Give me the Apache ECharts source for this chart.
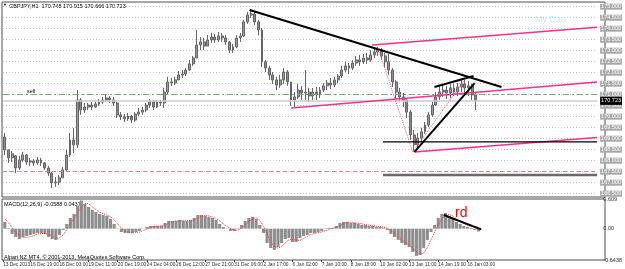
<!DOCTYPE html>
<html>
<head>
<meta charset="utf-8">
<script src="https://cdn.jsdelivr.net/npm/echarts@6/dist/echarts.min.js"></script>
<style>
html, body { margin: 0; padding: 0; background: #fff; }
#chart { width: 625px; height: 269px; }
</style>
</head>
<body>
<div id="chart"></div>
<script>
var candles = [
    [169.08,168.49,168.26,169.26],[168.49,168.13,167.90,168.49],[168.13,168.31,167.94,168.44],[168.22,167.67,167.44,168.26],
    [167.67,168.03,167.58,168.22],[168.03,168.26,167.94,168.40],[168.26,167.94,167.81,168.31],[167.94,167.99,167.76,168.13],
    [167.99,167.90,167.76,168.08],[167.90,168.03,167.81,168.17],[168.03,167.90,167.76,168.13],[167.90,167.67,167.58,167.94],
    [167.67,167.44,167.31,167.76],[167.44,166.99,166.76,167.49],[166.99,167.03,166.81,167.26],[167.03,167.22,166.90,167.35],
    [167.22,167.58,167.22,167.72],[167.58,168.26,167.49,168.49],[168.26,168.94,168.17,169.26],[168.94,168.72,168.35,169.49],
    [168.72,170.76,168.58,171.21],[170.76,170.30,170.08,170.85],[170.30,170.44,170.17,170.62],[170.44,170.53,170.30,170.62],
    [170.53,170.44,170.30,170.67],[170.44,170.58,170.40,170.71],[170.58,170.67,170.49,170.80],[170.67,170.76,170.58,170.90],
    [170.76,170.85,170.67,170.99],[170.85,170.76,170.62,170.94],[170.76,170.62,170.49,170.90],[170.62,170.08,169.94,170.67],
    [170.08,169.99,169.85,170.21],[169.99,169.90,169.76,170.12],[169.90,170.03,169.81,170.17],[170.03,169.85,169.71,170.08],
    [169.85,170.12,169.76,170.21],[170.12,170.21,170.03,170.40],[170.21,170.30,170.08,170.44],[170.30,170.53,170.21,170.62],
    [170.53,170.67,170.40,170.80],[170.67,170.44,170.30,170.76],[170.44,170.67,170.40,170.76],[170.67,170.62,170.49,170.76],
    [170.62,171.12,170.40,171.31],[171.12,171.58,171.03,171.81],[171.58,171.53,171.40,171.76],[171.53,171.67,171.44,171.81],
    [171.67,171.90,171.67,172.08],[171.90,171.94,171.76,172.12],[171.94,172.12,171.85,172.21],[172.12,172.40,172.08,172.58],
    [172.40,172.67,172.31,172.76],[172.67,173.26,172.67,173.94],[173.26,173.40,173.03,173.62],[173.40,173.21,173.03,173.58],
    [173.21,173.49,173.21,173.71],[173.49,173.62,173.35,173.81],[173.62,173.49,173.35,173.76],[173.49,173.67,173.40,173.85],
    [173.67,173.58,173.40,173.81],[173.58,173.40,173.26,173.71],[173.40,173.03,172.90,173.44],[173.03,173.17,172.90,173.31],
    [173.17,173.58,173.12,173.71],[173.58,173.67,173.40,173.81],[173.67,174.31,173.62,174.40],[174.31,174.62,174.22,174.76],
    [174.62,174.67,174.49,174.90],[174.67,174.31,174.17,174.76],[174.31,173.94,173.71,174.40],[173.94,172.49,172.26,174.03],
    [172.49,172.21,172.03,172.58],[172.21,171.90,171.67,172.31],[171.90,171.67,171.49,172.03],[171.67,171.44,171.21,171.81],
    [171.44,171.67,171.31,171.90],[171.67,172.03,171.49,172.21],[172.03,171.58,171.40,172.12],[171.58,170.76,170.49,171.58],
    [170.76,170.90,170.40,171.12],[170.90,171.21,170.80,171.49],[171.21,171.08,170.76,171.40],[171.08,171.12,170.76,172.12],
    [171.12,170.94,170.67,171.31],[170.94,171.12,170.76,171.31],[171.12,170.99,170.76,171.35],[170.99,171.21,170.85,171.35],
    [171.21,171.40,171.12,171.53],[171.40,171.53,171.21,171.67],[171.53,171.44,171.26,171.76],[171.44,171.67,171.35,171.81],
    [171.67,171.85,171.53,171.94],[171.85,172.12,171.76,172.31],[172.12,172.31,172.03,172.49],[172.31,172.21,171.94,172.44],
    [172.21,172.44,172.12,172.58],[172.44,172.58,172.31,172.76],[172.58,172.49,172.31,172.81],[172.49,172.67,172.40,172.85],
    [172.67,172.58,172.40,172.90],[172.58,172.81,172.49,173.03],[172.81,172.94,172.67,173.12],[172.94,173.03,172.76,173.17],
    [173.03,172.76,172.58,173.12],[172.76,172.49,172.26,172.90],[172.49,172.12,171.90,172.85],[172.12,171.58,171.35,172.21],
    [171.58,171.12,170.76,171.67],[171.12,170.90,170.67,171.31],[170.90,170.76,170.44,171.08],[170.76,170.21,169.94,170.80],
    [170.21,169.17,168.94,170.30],[169.17,168.72,168.40,169.40],[168.72,169.03,168.58,169.26],[169.03,169.31,168.85,169.49],
    [169.31,169.62,169.22,169.76],[169.62,170.08,169.53,170.21],[170.08,170.53,169.99,170.67],[170.53,170.90,170.49,171.12],
    [170.90,171.12,170.76,171.40],[171.12,171.21,170.90,171.44],[171.21,171.08,170.80,171.40],[171.08,171.31,170.85,171.49],
    [171.31,171.12,170.94,171.49],[171.12,171.35,170.94,171.53],[171.35,171.49,171.12,171.67],[171.49,171.31,171.08,171.76],
    [171.31,171.40,170.94,171.62],[171.40,170.99,170.76,171.49],[170.99,170.71,170.30,171.12]
];

// MACD(12,26,9) main (histogram) and signal, per 4-hour bar
var macdMain = [
    0.138,0.014,-0.109,-0.170,-0.211,-0.170,-0.150,-0.129,-0.109,-0.088,
    -0.088,-0.109,-0.170,-0.211,-0.232,-0.129,-0.027,0.096,0.220,0.302,
    0.466,0.580,0.507,0.446,0.384,0.343,0.302,0.281,0.261,0.199,
    0.096,-0.006,-0.068,-0.088,-0.088,-0.088,-0.068,-0.047,-0.006,0.035,
    0.055,0.055,0.055,0.055,0.117,0.158,0.158,0.158,0.179,0.158,
    0.158,0.179,0.220,0.281,0.281,0.261,0.240,0.220,0.179,0.096,
    0.035,-0.006,-0.047,-0.047,-0.006,0.076,0.158,0.220,0.240,0.199,
    0.076,-0.088,-0.294,-0.396,-0.437,-0.376,-0.294,-0.211,-0.191,-0.273,
    -0.273,-0.191,-0.150,-0.129,-0.088,-0.088,-0.068,-0.047,-0.006,0.014,
    0.014,0.055,0.117,0.138,0.138,0.117,0.117,0.096,0.076,0.076,
    0.055,0.055,0.035,0.035,0.014,-0.027,-0.109,-0.170,-0.232,-0.294,
    -0.335,-0.376,-0.478,-0.560,-0.540,-0.396,-0.232,-0.068,0.076,0.220,
    0.302,0.322,0.261,0.199,0.138,0.096,0.055,0.035,0.014,-0.027,
    -0.059
];
var macdSignal = [
    0.20,0.13,0.02,-0.08,-0.15,-0.18,-0.18,-0.16,-0.14,-0.11,
    -0.10,-0.10,-0.12,-0.16,-0.20,-0.19,-0.13,-0.02,0.10,0.21,
    0.33,0.45,0.52,0.51,0.45,0.39,0.34,0.31,0.28,0.25,
    0.18,0.10,0.01,-0.05,-0.08,-0.09,-0.08,-0.07,-0.04,-0.01,
    0.03,0.05,0.05,0.06,0.07,0.11,0.14,0.16,0.16,0.17,
    0.17,0.17,0.18,0.22,0.25,0.27,0.26,0.24,0.21,0.16,
    0.10,0.04,0.00,-0.03,-0.03,0.01,0.07,0.15,0.20,0.22,
    0.17,0.06,-0.10,-0.26,-0.37,-0.40,-0.37,-0.29,-0.23,-0.22,
    -0.24,-0.24,-0.20,-0.16,-0.12,-0.10,-0.08,-0.07,-0.04,-0.01,
    0.01,0.03,0.06,0.10,0.13,0.13,0.12,0.11,0.10,0.08,
    0.07,0.06,0.05,0.04,0.03,0.01,-0.04,-0.10,-0.17,-0.23,
    -0.29,-0.34,-0.40,-0.47,-0.53,-0.50,-0.39,-0.23,-0.07,0.08,
    0.20,0.28,0.29,0.26,0.20,0.14,0.10,0.06,0.04,0.03,
    0.044
];

// time scale: 164 bar slots, labels every 8 slots (32 hours); the first one sits on the left edge
var slotCount = 164;
var dateLabels = ['13 Dec 2013','16 Dec 19:00','18 Dec 03:00','19 Dec 11:00','20 Dec 19:00','24 Dec 04:00',
    '26 Dec 12:00','27 Dec 21:00','31 Dec 06:00','2 Jan 17:00','6 Jan 02:00','7 Jan 10:00','8 Jan 18:00',
    '10 Jan 02:00','13 Jan 11:00','14 Jan 19:00','16 Jan 03:00'];
var labelSlots = [-0.5,7,15,23,31,39,47,55,63,71,79,87,95,103,111,119,127];

// drawn objects [slot, price]
var trendDown = [[67.6,174.85],[137.1,171.35]];
var channelTop = [[101.4,173.26],[163.5,174.07]];
var channelMid = [[79.05,170.40],[163.5,171.58]];
var channelLow = [[113.1,168.40],[163.5,169.05]];
var riseLine = [[113.1,168.40],[129.7,171.53]];
var wedgeTop = [[118.6,171.35],[129.4,171.85]];
var zigzag = [[103,173.12],[112.6,168.40],[127.3,171.76]];
var fe618 = [[104.4,168.86],[163.5,168.86]];
var fe100 = [[104.4,167.35],[163.5,167.35]];
var macdDiv = [[120.5,0.28],[130.8,-0.016]];

var sellLevel = 171.0;
var stopLevel = 167.5;
var bidPrice = 170.723;
var macdTicks = [0.609, 0, -0.6438];

var chart = echarts.init(document.getElementById('chart'), null, {renderer: 'canvas'});

var labelMap = {};
labelSlots.forEach(function(s, j) { labelMap[s] = dateLabels[j]; });
var cats = [];
for (var i = 0; i < slotCount; i++) cats.push('s' + i);

var FONT = 'Liberation Sans';
var PINK = '#ff2d8c';

function trend(data, color, width, type, xIdx, yIdx) {
    return {
        type: 'line', xAxisIndex: xIdx || 1, yAxisIndex: yIdx || 0,
        data: data, showSymbol: false, symbol: 'none', silent: true, animation: false,
        lineStyle: {color: color, width: width, type: type || 'solid'}, z: 5
    };
}

// put a small grey caption on the last point of an object line
function endText(data, text) {
    var d = data.map(function(p) { return {value: p}; });
    d[d.length - 1].label = {show: true, formatter: text, position: 'top', align: 'right',
        offset: [-2, 1], color: '#707070', fontSize: 5.5, fontFamily: FONT};
    return d;
}

chart.setOption({
    backgroundColor: '#fff',
    animation: false,
    grid: [
        {left: 3, right: 20, top: 6.7, bottom: 75.3},
        {left: 3, right: 20, top: 199, bottom: 9}
    ],
    xAxis: [
        {type: 'category', gridIndex: 0, data: cats, show: false, boundaryGap: true},
        {type: 'value', gridIndex: 0, min: -0.5, max: slotCount - 0.5, show: false},
        {type: 'category', gridIndex: 1, data: cats, show: false, boundaryGap: true},
        {type: 'value', gridIndex: 1, position: 'bottom', min: -0.5, max: slotCount - 0.5,
            axisLine: {show: false}, splitLine: {show: false},
            axisTick: {show: true, customValues: labelSlots, length: 2, lineStyle: {color: '#404040'}},
            axisLabel: {customValues: labelSlots, formatter: function(v) { return labelMap[v] || ''; },
                showMinLabel: true, showMaxLabel: true, hideOverlap: false,
                align: 'left', margin: 2, fontSize: 4.8, color: '#303030', fontFamily: FONT}}
    ],
    yAxis: [
        {type: 'value', gridIndex: 0, position: 'right', min: 166.5, max: 175, interval: 0.5,
            axisLine: {show: false}, axisTick: {show: false},
            splitLine: {show: true, lineStyle: {color: '#c4c4c4', type: [1, 2], width: 1}},
            axisLabel: {margin: 3, fontSize: 5.5, fontFamily: FONT, color: '#fff',
                backgroundColor: '#a8a8a8', padding: [0, 1],
                formatter: function(v) { return v.toFixed(3); }}},
        {type: 'value', gridIndex: 1, position: 'right', min: -0.6438, max: 0.609,
            axisLine: {show: false}, axisTick: {show: false}, splitLine: {show: false},
            axisLabel: {customValues: macdTicks, margin: 3, fontSize: 5.5, fontFamily: FONT, color: '#303030',
                formatter: function(v) { return v === 0 ? '0.00' : String(v); }}}
    ],
    series: [
        {
            type: 'candlestick', xAxisIndex: 0, yAxisIndex: 0, data: candles, barWidth: 2.4,
            itemStyle: {color: '#9a9a9a', color0: '#8a8a8a', borderColor: '#666', borderColor0: '#666', borderWidth: 1},
            markLine: {
                silent: true, symbol: ['none', 'none'], animation: false,
                data: [
                    {yAxis: sellLevel, lineStyle: {color: '#6fb36f', type: [6, 3, 2, 3], width: 1}, label: {show: false}},
                    {yAxis: stopLevel, lineStyle: {color: '#ff7a7a', type: [4, 3], width: 1}, label: {show: false}},
                    {yAxis: bidPrice, lineStyle: {color: '#cccccc', type: 'solid', width: 1.5},
                        label: {show: true, position: 'end', distance: 3, formatter: bidPrice.toFixed(3),
                            backgroundColor: '#000', color: '#fff', fontSize: 5.5, fontFamily: FONT, padding: [1, 1]}}
                ]
            }
        },
        trend(trendDown, '#000', 2),
        trend(channelTop, PINK, 1.5),
        trend(channelMid, PINK, 1.5),
        trend(channelLow, PINK, 1.5),
        trend(riseLine, '#000', 2),
        trend(wedgeTop, '#000', 2),
        trend(zigzag, '#ff5a78', 1, 'dotted'),
        trend(endText(fe618, 'FE 61.8'), '#000', 1.2),
        trend(endText(fe100, 'FE 100.0'), '#6a6a6a', 2.5),
        {
            type: 'bar', xAxisIndex: 2, yAxisIndex: 1, data: macdMain, barCategoryGap: '15%',
            itemStyle: {color: '#8e8e8e'}, silent: true
        },
        {
            type: 'line', xAxisIndex: 2, yAxisIndex: 1, data: macdSignal, showSymbol: false, symbol: 'none',
            lineStyle: {color: '#ff3030', width: 1, type: 'dotted'}, silent: true, z: 4
        },
        trend(macdDiv, '#000', 2, 'solid', 3, 1)
    ],
    graphic: [
        {type: 'rect', shape: {x: 2, y: 2, width: 603, height: 195}, style: {fill: 'none', stroke: '#505050', lineWidth: 1}, silent: true},
        {type: 'rect', shape: {x: 2, y: 199, width: 603, height: 61}, style: {fill: 'none', stroke: '#505050', lineWidth: 1}, silent: true},
        {type: 'text', left: 3, top: 3, style: {text: '▼', fontSize: 4, fill: '#000', fontFamily: FONT}},
        {type: 'text', left: 9, top: 3, style: {text: 'GBPJPY,H1  170.748 170.915 170.666 170.723', fontSize: 5.5, fill: '#000', fontFamily: FONT}},
        {type: 'text', left: 27, top: 88, style: {text: 'sell', fontSize: 5.5, fill: '#000', fontFamily: FONT}},
        {type: 'text', left: 535, top: 15, style: {text: 'My Dan', fontSize: 9, fill: '#c6eef6', fontFamily: FONT}},
        {type: 'text', left: 4, top: 201, style: {text: 'MACD(12,26,9) -0.0588 0.0437', fontSize: 5.5, fill: '#000', fontFamily: FONT}},
        {type: 'text', left: 4, top: 254, style: {text: 'Alpari NZ MT4, © 2001-2013, MetaQuotes Software Corp.', fontSize: 5.5, fill: '#000', fontFamily: FONT}},
        {type: 'text', left: 455, top: 206, style: {text: 'rd', fontSize: 14, fill: '#ff0000', fontFamily: FONT}}
    ]
});
</script>
</body>
</html>
